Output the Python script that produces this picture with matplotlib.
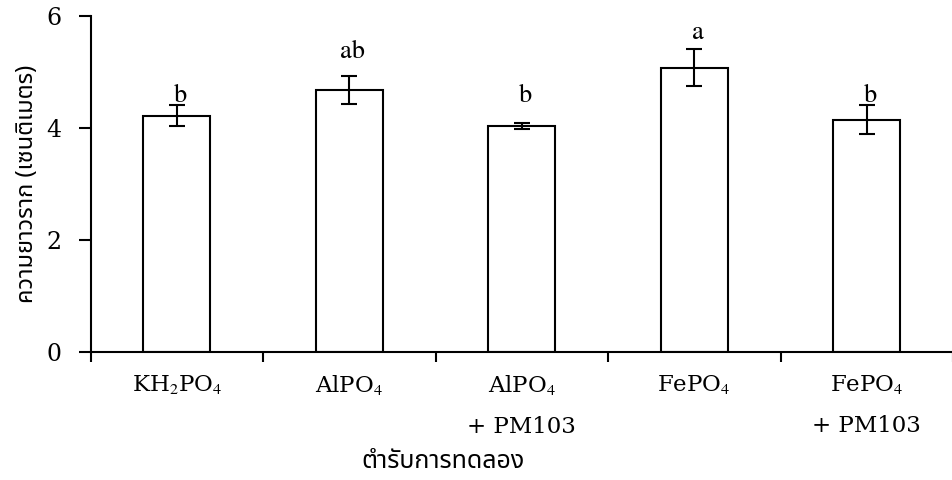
import matplotlib
matplotlib.use("Agg")
import matplotlib.pyplot as plt
from matplotlib import font_manager
import numpy as np

# Root length per phosphate treatment
categories = ["KH$_2$PO$_4$", "AlPO$_4$", "AlPO$_4$\n+ PM103", "FePO$_4$", "FePO$_4$\n+ PM103"]
root_length = [4.22, 4.68, 4.04, 5.08, 4.15]
errors = [0.19, 0.25, 0.05, 0.33, 0.26]
groups = ["b", "ab", "b", "a", "b"]
group_y = [4.47, 5.25, 4.47, 5.59, 4.47]
yticks = [0, 2, 4, 6]

ylabel = "ความยาวราก (เซนติเมตร)"
xlabel = "ตำรับการทดลอง"


def thai_family():
    """Return the name of an installed font that can draw Thai script."""
    try:
        from fontTools.ttLib import TTFont
    except ImportError:
        return "DejaVu Sans"
    preferred = ["Noto Sans Thai", "Noto Sans Thai Looped", "Loma", "Garuda",
                 "Sarabun", "Tlwg Typo", "Norasi", "DejaVu Sans"]
    found = []
    for entry in font_manager.fontManager.ttflist:
        try:
            tt = TTFont(entry.fname, fontNumber=0, lazy=True)
            cmap = tt.getBestCmap() or {}
            if ord("ต") in cmap and ord("ำ") in cmap:
                found.append(entry.name)
        except Exception:
            continue
    for name in preferred:
        if name in found:
            return name
    return found[0] if found else "DejaVu Sans"


thai = thai_family()

plt.rcParams["mathtext.fontset"] = "stix"
plt.rcParams["font.family"] = ["DejaVu Serif"]

fig = plt.figure(figsize=(9.53, 4.8), dpi=100)
ax = fig.add_axes([0.095, 0.2667, 0.905, 0.70])

x = np.arange(len(categories))
ax.bar(x, root_length, width=0.39, color="white", edgecolor="black",
       linewidth=1.5, zorder=2)
ax.errorbar(x, root_length, yerr=errors, fmt="none", ecolor="black",
            elinewidth=1.5, capsize=6, capthick=1.5, zorder=3)

for xi, g, gy in zip(x, groups, group_y):
    ax.text(xi + 0.02, gy, g, ha="center", va="baseline", fontsize=19,
            family="STIXGeneral")

ax.set_xlim(-0.5, len(categories) - 0.5)
ax.set_ylim(0, 6)
ax.set_yticks(yticks)
ax.set_yticklabels([str(v) for v in yticks], fontsize=17)

ax.set_xticks(x)
ax.set_xticklabels(categories, fontsize=16.5, linespacing=2.15, va="top")
ax.set_xticks(np.arange(-0.5, len(categories) + 0.5, 1.0), minor=True)
ax.tick_params(axis="x", which="major", length=0, pad=15)
ax.tick_params(axis="x", which="minor", length=7.5, width=1.5, direction="out")
ax.tick_params(axis="y", length=9, width=1.5, direction="out", pad=12)

for side in ("top", "right"):
    ax.spines[side].set_visible(False)
for side in ("left", "bottom"):
    ax.spines[side].set_linewidth(1.5)

ax.set_ylabel(ylabel, family=thai, fontsize=17, labelpad=5)
ax.set_xlabel(xlabel, family=thai, fontsize=18)
ax.xaxis.set_label_coords((443 - 90.5) / 862.5, -0.29)

fig.savefig("out.png", dpi=100)
